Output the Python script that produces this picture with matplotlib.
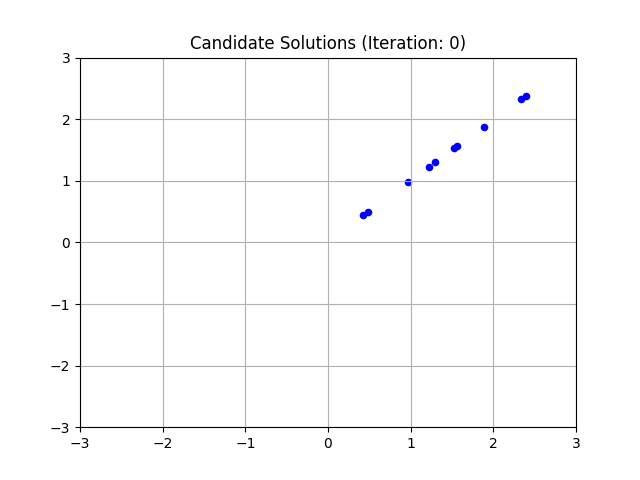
import matplotlib
matplotlib.use("Agg")
import matplotlib.pyplot as plt

# candidate positions at iteration 0
xs = [0.42, 0.48, 0.97, 1.22, 1.30, 1.52, 1.56, 1.89, 2.34, 2.40]
ys = [0.45, 0.50, 0.98, 1.22, 1.30, 1.53, 1.56, 1.88, 2.32, 2.38]
iteration = 0

fig, ax = plt.subplots(figsize=(6.4, 4.8), dpi=100)
ax.scatter(xs, ys, color="b", s=20)
ax.set_xlim(-3, 3)
ax.set_ylim(-3, 3)
ax.set_title(f"Candidate Solutions (Iteration: {iteration})")
ax.grid(True)

fig.savefig("out.png", dpi=100)
plt.close(fig)
